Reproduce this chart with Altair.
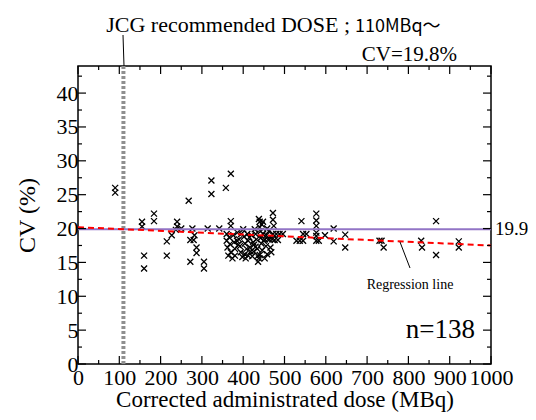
import altair as alt
import pandas as pd

# ---- data ----
dose = [90, 90, 155, 155, 160, 160, 184, 184, 215, 215, 227, 240, 240, 237, 250,
        268, 277, 272, 280, 282, 287, 287, 272, 305, 305, 323, 323, 314, 342, 358,
        370, 370, 370,
        360, 360, 362, 366, 368, 370, 376, 378, 380, 380, 386, 390, 392, 394, 400,
        402, 404, 404, 406, 410, 412, 416, 418, 420, 424, 426, 428, 430, 432, 434,
        436, 436, 438, 440, 440, 442, 442, 444, 446, 448, 448, 450, 452, 455, 456,
        458, 460, 464, 466, 468, 470, 472, 472, 474, 472, 476, 480, 484, 488, 496,
        440, 438, 395, 385, 415, 425, 445,
        529, 537, 545, 545, 541, 577, 577, 577, 577, 577, 577, 553, 583, 619, 619,
        647, 647, 598, 730, 735, 740, 831, 833, 867, 867, 922, 922,
        364, 374, 398, 408, 422, 430, 452, 458, 462, 388, 412]
cv = [26.0, 25.3, 21.0, 20.3, 16.0, 14.1, 22.2, 21.1, 18.1, 16.0, 19.0, 21.0, 20.3, 19.8, 20.0,
      24.1, 20.0, 18.3, 18.3, 19.0, 17.2, 16.4, 15.1, 15.1, 14.1, 27.1, 25.1, 20.0, 20.0, 26.0,
      28.1, 21.1, 20.4,
      19.2, 18.2, 17.2, 18.7, 17.7, 16.5, 19.0, 18.0, 17.0, 16.0, 19.4, 18.4, 17.4, 16.5, 19.9,
      18.8, 17.8, 16.2, 15.6, 19.2, 18.2, 17.2, 16.6, 19.0, 18.0, 17.6, 19.9, 19.2, 18.4, 17.0,
      16.0, 15.1, 21.4, 21.0, 20.2, 19.6, 18.6, 17.8, 16.8, 21.0, 19.2, 18.2, 18.4, 17.4, 19.0,
      20.0, 18.4, 18.4, 17.2, 16.5, 18.4, 22.3, 21.3, 20.4, 19.2, 18.3, 19.2, 18.3, 19.2, 19.2,
      16.1, 15.6, 19.2, 18.2, 18.7, 16.6, 20.6,
      18.2, 18.2, 18.2, 19.2, 21.1, 22.2, 21.2, 20.4, 19.4, 18.9, 18.2, 19.2, 18.2, 20.0, 18.1,
      19.1, 17.2, 19.0, 18.2, 18.2, 17.2, 18.2, 17.2, 21.1, 16.1, 18.1, 17.2,
      16.0, 15.6, 15.8, 17.0, 15.9, 17.3, 15.6, 16.2, 19.6, 17.6, 16.0]

reg_x = [0, 1000]
reg_y = [20.2, 17.5]
mean_cv = 19.9
jcg_dose = 110

x_major = list(range(0, 1001, 100))
x_minor = list(range(50, 1000, 100))
y_major = [0, 5, 10, 15, 20, 25, 30, 35, 40]
y_minor = [2.5, 7.5, 12.5, 17.5, 22.5, 27.5, 32.5, 37.5, 42.5]

W, H = 413, 298
SERIF = "Liberation Serif"
XS = alt.Scale(domain=[0, 1000], nice=False, zero=False)
YS = alt.Scale(domain=[0, 44], nice=False, zero=False)

XA = alt.Axis(
    values=x_major, title="Corrected administrated dose (MBq)", format="d",
    tickSize=0, domain=False, grid=False, labelOverlap=False, labelFlush=False,
    labelFont=SERIF, labelFontSize=22, labelColor="black", labelPadding=3,
    titleFont=SERIF, titleFontSize=23, titleFontWeight="normal", titleColor="black",
    titlePadding=0)
YA = alt.Axis(
    values=y_major, title="CV (%)", format="d",
    tickSize=0, domain=False, grid=False, labelOverlap=False, labelFlush=False,
    labelFont=SERIF, labelFontSize=22, labelColor="black", labelPadding=0,
    titleFont=SERIF, titleFontSize=24, titleFontWeight="normal", titleColor="black",
    titlePadding=17)

pts = pd.DataFrame({"dose": dose, "cv": cv})

scatter = alt.Chart(pts).mark_point(
    shape="M-1,-1L1,1M-1,1L1,-1", size=36, filled=False,
    color="black", strokeWidth=1.3, opacity=1
).encode(
    x=alt.X("dose:Q", scale=XS, axis=XA),
    y=alt.Y("cv:Q", scale=YS, axis=YA),
)

def xticks(vals, length):
    df = pd.DataFrame({"v": vals})
    b = alt.Chart(df).mark_rule(color="black", strokeWidth=1.2).encode(
        x=alt.X("v:Q", scale=XS, axis=XA), y=alt.value(H), y2=alt.value(H - length))
    t = alt.Chart(df).mark_rule(color="black", strokeWidth=1.2).encode(
        x=alt.X("v:Q", scale=XS, axis=XA), y=alt.value(0), y2=alt.value(length))
    return [b, t]

def yticks(vals, length):
    df = pd.DataFrame({"v": vals})
    l = alt.Chart(df).mark_rule(color="black", strokeWidth=1.2).encode(
        y=alt.Y("v:Q", scale=YS, axis=YA), x=alt.value(0), x2=alt.value(length))
    r = alt.Chart(df).mark_rule(color="black", strokeWidth=1.2).encode(
        y=alt.Y("v:Q", scale=YS, axis=YA), x=alt.value(W), x2=alt.value(W - length))
    return [l, r]

tick_layers = xticks(x_major, 8) + xticks(x_minor, 4) + yticks(y_major, 8) + yticks(y_minor, 4)

jcg_line = alt.Chart(pd.DataFrame({"d": [jcg_dose]})).mark_rule(
    color="#8f8f8f", strokeWidth=4, strokeDash=[3, 2]
).encode(x=alt.X("d:Q", scale=XS, axis=XA), y=alt.value(0), y2=alt.value(H))

mean_line = alt.Chart(pd.DataFrame({"y": [mean_cv]})).mark_rule(
    color="#9274c6", strokeWidth=2
).encode(y=alt.Y("y:Q", scale=YS, axis=YA), x=alt.value(0), x2=alt.value(W))

reg = alt.Chart(pd.DataFrame({"x": reg_x, "y": reg_y})).mark_line(
    color="#ff0000", strokeWidth=2, strokeDash=[6, 4]
).encode(x=alt.X("x:Q", scale=XS, axis=XA), y=alt.Y("y:Q", scale=YS, axis=YA))

def text(t, x, y, size, align="left", font=SERIF, baseline="alphabetic"):
    return alt.Chart(pd.DataFrame({"t": [t]})).mark_text(
        font=font, fontSize=size, color="black", align=align, baseline=baseline
    ).encode(x=alt.value(x), y=alt.value(y), text="t:N")

annots = [
    text("JCG recommended DOSE ;", 272, -34, 22, align="right"),
    text("110MBq～", 277, -34, 18, font="Noto Sans CJK JP"),
    text("CV=19.8%", 379, -5, 21, align="right"),
    text("19.9", W + 4, 229 - 66, 19, baseline="middle"),
    text("Regression line", 332, 219, 14, align="center", baseline="middle"),
    text("n=138", 397, 264, 27, align="right", baseline="middle"),
]

pointer1 = alt.Chart(pd.DataFrame({"a": [0]})).mark_rule(color="black", strokeWidth=1).encode(
    x=alt.value(45), x2=alt.value(46), y=alt.value(-31), y2=alt.value(0))
pointer2 = alt.Chart(pd.DataFrame({"a": [0]})).mark_rule(color="black", strokeWidth=1).encode(
    x=alt.value(322), x2=alt.value(332), y=alt.value(176), y2=alt.value(202))

chart = alt.layer(
    scatter, jcg_line, mean_line, reg, *tick_layers, pointer1, pointer2, *annots
).properties(
    width=W, height=H,
    autosize=alt.AutoSizeParams(type="none"),
    padding={"left": 70, "top": 58, "right": 37, "bottom": 48},
).configure_view(stroke="black", strokeWidth=1.5)

chart.save("out.html", embed_options={"renderer": "svg", "actions": False})
